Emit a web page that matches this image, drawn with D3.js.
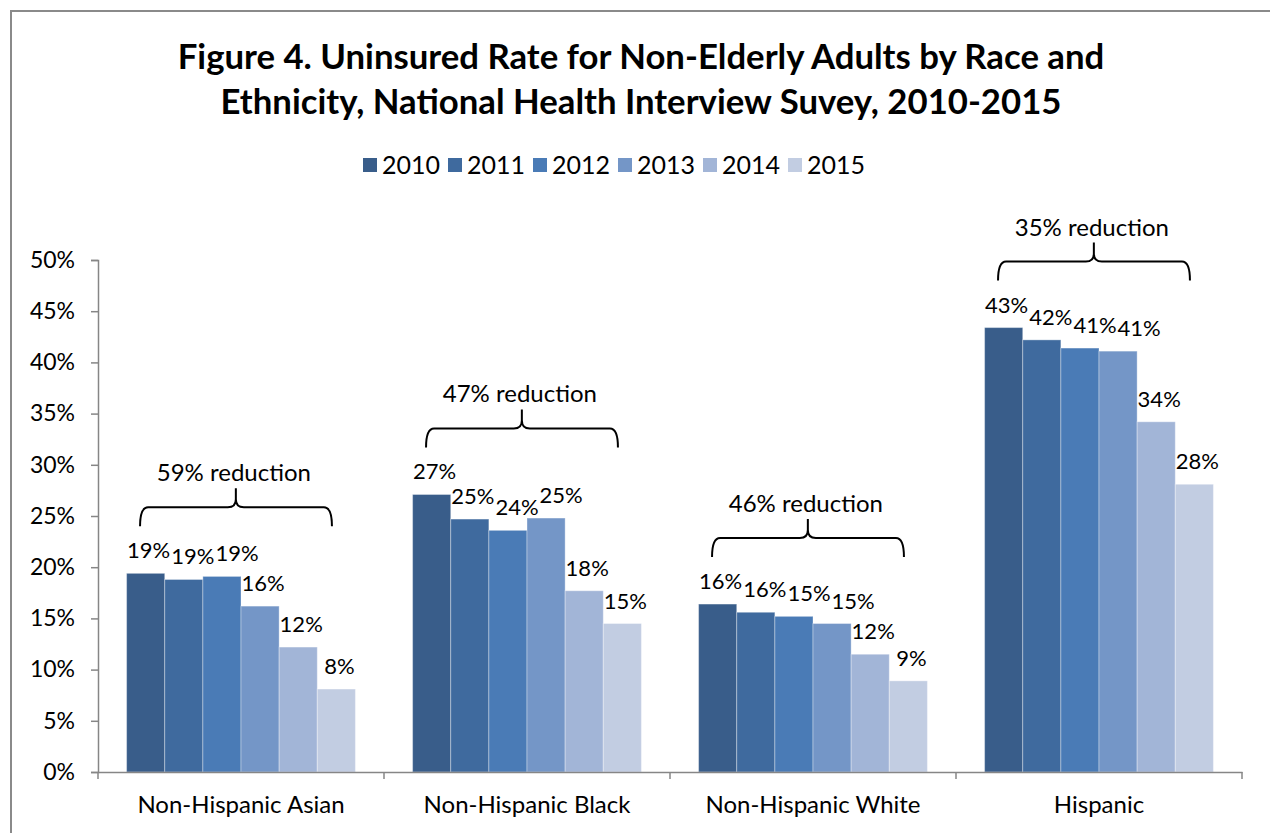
<!DOCTYPE html>
<html>
<head>
<meta charset="utf-8">
<script src="https://cdn.jsdelivr.net/npm/d3@7"></script>
<style>
  html, body { margin: 0; padding: 0; background: #fff; }
  svg { display: block; }
  text { font-family: Lato, "Open Sans", sans-serif; fill: #000; }
</style>
</head>
<body>
<svg id="chart" width="1270" height="833"></svg>
<script>
// ---- data ----
const categories = ["Non-Hispanic Asian", "Non-Hispanic Black", "Non-Hispanic White", "Hispanic"];
const years = ["2010", "2011", "2012", "2013", "2014", "2015"];
const v2010 = [19.4, 27.1, 16.4, 43.4];
const v2011 = [18.8, 24.7, 15.6, 42.2];
const v2012 = [19.1, 23.6, 15.2, 41.4];
const v2013 = [16.2, 24.8, 14.5, 41.1];
const v2014 = [12.2, 17.7, 11.5, 34.2];
const v2015 = [8.1, 14.5, 8.9, 28.1];
const reductionLabels = ["59% reduction", "47% reduction", "46% reduction", "35% reduction"];
const yTicks = [0, 5, 10, 15, 20, 25, 30, 35, 40, 45, 50];
const titleLines = ["Figure 4. Uninsured Rate for Non-Elderly Adults by Race and",
                    "Ethnicity, National Health Interview Suvey, 2010-2015"];
const colors = ["#395D8A", "#3F6A9E", "#4A7BB6", "#7496C7", "#A2B5D7", "#C2CDE2"];

const seriesValues = [v2010, v2011, v2012, v2013, v2014, v2015];

const svg = d3.select("#chart");

// frame
svg.append("rect").attr("x", 11).attr("y", 11).attr("width", 1300).attr("height", 900)
  .attr("fill", "none").attr("stroke", "#8a8a8a").attr("stroke-width", 2);

// title
const tl = svg.append("g").selectAll("text").data(titleLines).join("text")
  .attr("x", 641).attr("y", (d, i) => 69 + i * 45)
  .attr("text-anchor", "middle").attr("font-weight", "bold").attr("font-size", 32)
  .text(d => d);
const w0 = tl.nodes()[0].getComputedTextLength();
tl.attr("font-size", 32 * 927 / w0);

// legend
const legend = svg.append("g");
years.forEach((yr, i) => {
  const g = legend.append("g").attr("transform", `translate(${363 + i * 85},158)`);
  g.append("rect").attr("width", 14).attr("height", 14).attr("fill", colors[i]);
  g.append("text").attr("x", 19).attr("y", 15.5).attr("font-size", 25).text(yr);
});

// scales
const x0 = d3.scaleBand().domain(categories).range([98, 1242]).paddingInner(0).paddingOuter(0);
const x1 = d3.scaleBand().domain(years).range([0, x0.bandwidth()]).paddingInner(0).paddingOuter(0.75);
const y = d3.scaleLinear().domain([0, 50]).range([772, 260]);

// bars
const barG = svg.append("g");
categories.forEach((c, ci) => {
  years.forEach((yr, yi) => {
    const v = seriesValues[yi][ci];
    barG.append("rect")
      .attr("x", x0(c) + x1(yr))
      .attr("y", y(v))
      .attr("width", x1.bandwidth())
      .attr("height", y(0) - y(v))
      .attr("fill", colors[yi])
      .attr("stroke", "rgba(255,255,255,0.35)").attr("stroke-width", 1);
  });
});

// value labels (outside end), nudged right when colliding with previous label
const labG = svg.append("g");
categories.forEach((c, ci) => {
  let prev = null;
  years.forEach((yr, yi) => {
    const v = seriesValues[yi][ci];
    const t = labG.append("text")
      .attr("x", x0(c) + x1(yr) + x1.bandwidth() / 2 + 3)
      .attr("y", y(v) - 15)
      .attr("text-anchor", "middle").attr("font-size", 22)
      .text(Math.round(v) + "%");
    let b = t.node().getBBox();
    if (prev) {
      const vOver = !(b.y > prev.y + prev.height - 4 || b.y + b.height - 4 < prev.y);
      const hOver = b.x < prev.x + prev.width;
      if (vOver && hOver) {
        const shift = prev.x + prev.width - b.x + 1;
        t.attr("x", +t.attr("x") + shift);
        b = t.node().getBBox();
      }
    }
    prev = b;
  });
});

// y axis
const yAxis = d3.axisLeft(y).tickValues(yTicks).tickFormat(d => d + "%").tickSize(7).tickPadding(16);
const ya = svg.append("g").attr("transform", "translate(98,0)").call(yAxis);
ya.selectAll("text").attr("font-size", 23).style("font-family", "Lato, sans-serif").attr("fill", "#000");
ya.selectAll("line, path").attr("stroke", "#868686").attr("stroke-width", 1.5);

// x axis
const xAxis = d3.axisBottom(x0).tickSize(0).tickPadding(24);
const xa = svg.append("g").attr("transform", "translate(0,772)").call(xAxis);
xa.select(".domain").attr("stroke", "#868686").attr("stroke-width", 1.5);
xa.selectAll("text").attr("font-size", 24).style("font-family", "Lato, sans-serif").attr("fill", "#000");
const bounds = categories.map(c => x0(c)).concat([x0.range()[1]]);
xa.selectAll(".bound").data(bounds).join("line").attr("class", "bound")
  .attr("x1", d => d).attr("x2", d => d).attr("y1", 0).attr("y2", 7)
  .attr("stroke", "#868686").attr("stroke-width", 1.5);

// braces
const braceG = svg.append("g");
categories.forEach((c, ci) => {
  const maxV = d3.max(seriesValues, s => s[ci]);
  const yb = y(maxV) - 47;
  const y0 = yb - 19;
  const ytop = y0 - 19;
  const xa1 = x0(c) + x0.bandwidth() * 0.147;
  const xa2 = x0(c) + x0.bandwidth() * 0.818;
  const xm = x0(c) + x0.bandwidth() * 0.482;
  const r = 8;
  const p = d3.path();
  p.moveTo(xa1, yb);
  p.quadraticCurveTo(xa1, y0, xa1 + r, y0);
  p.lineTo(xm - r, y0);
  p.quadraticCurveTo(xm, y0, xm, y0 - r);
  p.lineTo(xm, ytop);
  p.moveTo(xm, y0 - r);
  p.quadraticCurveTo(xm, y0, xm + r, y0);
  p.lineTo(xa2 - r, y0);
  p.quadraticCurveTo(xa2, y0, xa2, yb);
  braceG.append("path").attr("d", p.toString()).attr("fill", "none")
    .attr("stroke", "#000").attr("stroke-width", 2);
  braceG.append("text").attr("x", xm - 2).attr("y", ytop - 7)
    .attr("text-anchor", "middle").attr("font-size", 24).text(reductionLabels[ci]);
});
</script>
</body>
</html>
